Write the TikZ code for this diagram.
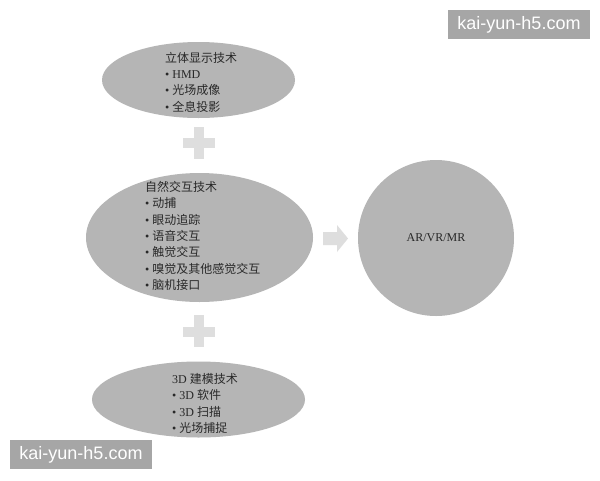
\documentclass[tikz,border=0pt]{standalone}
\usepackage{fontspec}
\setmainfont{Liberation Serif}
\setsansfont{Liberation Sans}
\newfontfamily\cjk{Noto Sans CJK SC}
\usetikzlibrary{shapes.geometric}
\definecolor{ellgray}{RGB}{181,181,181}
\definecolor{lightg}{RGB}{222,222,222}
\definecolor{wmgray}{RGB}{166,166,166}
\definecolor{txtcol}{RGB}{40,40,40}
\newcommand{\zh}[1]{{\cjk #1}}
\newcommand{\bl}{\textbullet\ }
\tikzset{
  ell/.style={ellipse, fill=ellgray, inner sep=0pt},
  txt/.style={anchor=west, align=left, inner sep=0pt, text=txtcol, font=\fontsize{12}{16.3}\selectfont},
  wm/.style={fill=wmgray, text=white, inner sep=0pt, minimum width=142pt, minimum height=29pt, font=\sffamily\fontsize{18}{18}\selectfont},
  plusfill/.style={fill=lightg}
}
\begin{document}
\begin{tikzpicture}[x=1pt,y=-1pt]
\useasboundingbox (0,0) rectangle (600,480);
\fill[white] (0,0) rectangle (600,480);
% ellipses
\node[ell, minimum width=193pt, minimum height=76pt] (e1) at (198.5,80) {};
\node[ell, minimum width=227pt, minimum height=129pt] (e2) at (199.5,237.5) {};
\node[ell, minimum width=213pt, minimum height=76pt] (e3) at (198.5,399.5) {};
% circle
\node[circle, fill=ellgray, minimum size=156pt, inner sep=0pt, text=txtcol, font=\fontsize{12}{14}\selectfont] (c) at (436,238) {AR/VR/MR};
% texts
\node[txt] (t1) at (165,82) {\zh{立体显示技术}\\\bl HMD\\\bl\zh{光场成像}\\\bl\zh{全息投影}};
\node[txt] (t2) at (145,236) {\zh{自然交互技术}\\\bl\zh{动捕}\\\bl\zh{眼动追踪}\\\bl\zh{语音交互}\\\bl\zh{触觉交互}\\\bl\zh{嗅觉及其他感觉交互}\\\bl\zh{脑机接口}};
\node[txt] (t3) at (172,403.5) {3D \zh{建模技术}\\\bl 3D \zh{软件}\\\bl 3D \zh{扫描}\\\bl\zh{光场捕捉}};
% plus signs
\fill[plusfill] (183,138) rectangle (215,148);
\fill[plusfill] (194,127) rectangle (204,159);
\fill[plusfill] (183,327) rectangle (215,337);
\fill[plusfill] (194,315) rectangle (204,347);
% block arrow
\fill[plusfill] (323,232) -- (337,232) -- (337,225) -- (348,238.5) -- (337,252) -- (337,245) -- (323,245) -- cycle;
% watermarks
\node[wm] (w1) at (519,24.5) {kai-yun-h5.com};
\node[wm] (w2) at (81,454.5) {kai-yun-h5.com};
\end{tikzpicture}
\end{document}
